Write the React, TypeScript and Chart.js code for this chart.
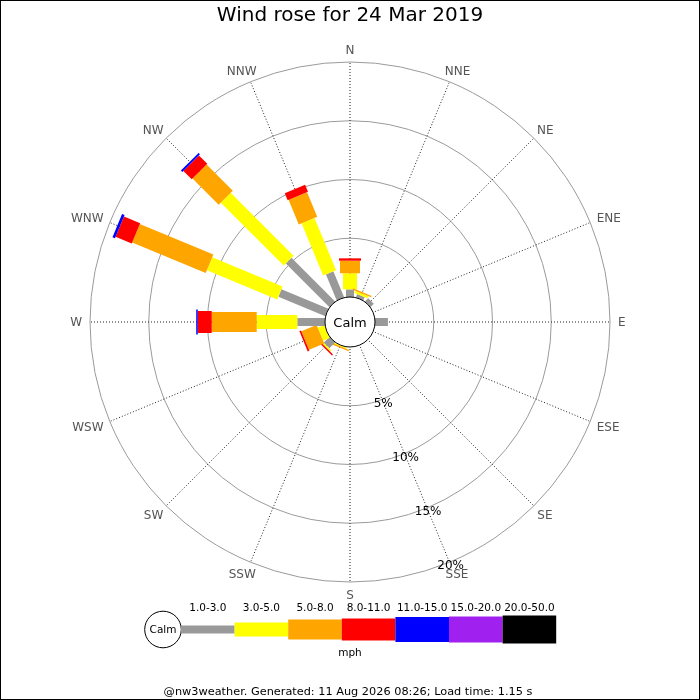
import React, { useEffect, useRef } from "react";
import { Chart, registerables } from "chart.js";

Chart.register(...registerables);

// ---- data ----
const directions = ["N", "NNE", "NE", "ENE", "E", "ESE", "SE", "SSE", "S", "SSW", "SW", "WSW", "W", "WNW", "NW", "NNW"];
const speedClasses = ["1.0-3.0", "3.0-5.0", "5.0-8.0", "8.0-11.0", "11.0-15.0", "15.0-20.0", "20.0-50.0"];
const classColors = ["#999999", "#ffff00", "#ffa500", "#ff0000", "#0000ff", "#a020f0", "#000000"];
const classWidths = [8, 14, 20, 22, 25, 26, 28];

// percentage of time per direction for each speed class (mph)
const speed1to3 = [0.65, 0.3, 0.4, 0, 1.1, 0, 0, 0, 0, 0, 0.7, 0, 2.36, 4.33, 5.26, 2.4];
const speed3to5 = [1.37, 0.2, 0, 0, 0, 0, 0, 0, 0, 0.1, 0.15, 0.6, 3.45, 6.48, 7.57, 4.81];
const speed5to8 = [1.07, 0.12, 0, 0, 0, 0, 0, 0, 0, 0.12, 0, 1.4, 3.83, 6.78, 3.15, 2.27];
const speed8to11 = [0.2, 0, 0, 0, 0, 0, 0, 0, 0, 0, 0.13, 0.15, 1.19, 1.49, 1.01, 0.64];
const speed11to15 = [0, 0, 0, 0, 0, 0, 0, 0, 0, 0, 0, 0, 0.13, 0.23, 0.17, 0];
const speed15to20 = [0, 0, 0, 0, 0, 0, 0, 0, 0, 0, 0, 0, 0, 0, 0, 0];
const speed20to50 = [0, 0, 0, 0, 0, 0, 0, 0, 0, 0, 0, 0, 0, 0, 0, 0];
const classData = [speed1to3, speed3to5, speed5to8, speed8to11, speed11to15, speed15to20, speed20to50];

const radialTicks = [5, 10, 15, 20];
const tickLabelDirection = "SSE";
const radialMax = 20;
const calmRadiusPct = -25 / 11.75; // inner calm circle offset in % units

const titleText = "Wind rose for 24 Mar 2019";
const unitText = "mph";
const footerText = "@nw3weather. Generated: 11 Aug 2026 08:26; Load time: 1.15 s";

const FONT = "'DejaVu Sans', Verdana, sans-serif";

const windRosePlugin = {
  id: "windrose",
  afterDatasetsDraw(chart: any) {
    const ctx = chart.ctx as CanvasRenderingContext2D;
    const scale = chart.scales.r;
    const ds = chart.data.datasets;
    ctx.save();
    for (let i = 0; i < directions.length; i++) {
      let cum = 0;
      ds.forEach((d: any, k: number) => {
        const v = d.data[i];
        if (!v) return;
        const r0 = scale.getDistanceFromCenterForValue(cum);
        cum += v;
        const r1 = scale.getDistanceFromCenterForValue(cum);
        const p0 = scale.getPointPosition(i, r0);
        const p1 = scale.getPointPosition(i, r1);
        const a = p0.angle;
        const hw = classWidths[k] / 2;
        const nx = -Math.sin(a) * hw;
        const ny = Math.cos(a) * hw;
        ctx.beginPath();
        ctx.moveTo(p0.x + nx, p0.y + ny);
        ctx.lineTo(p1.x + nx, p1.y + ny);
        ctx.lineTo(p1.x - nx, p1.y - ny);
        ctx.lineTo(p0.x - nx, p0.y - ny);
        ctx.closePath();
        ctx.fillStyle = d.backgroundColor;
        ctx.fill();
      });
    }
    // calm circle
    const rc = scale.getDistanceFromCenterForValue(0);
    ctx.beginPath();
    ctx.arc(scale.xCenter, scale.yCenter, rc, 0, Math.PI * 2);
    ctx.fillStyle = "#ffffff";
    ctx.fill();
    ctx.lineWidth = 1;
    ctx.strokeStyle = "#000000";
    ctx.stroke();
    ctx.fillStyle = "#000";
    ctx.font = `13px ${FONT}`;
    ctx.textAlign = "center";
    ctx.textBaseline = "alphabetic";
    ctx.fillText("Calm", scale.xCenter, scale.yCenter + (13 * 0.729) / 2);
    ctx.restore();
  },
  afterDraw(chart: any) {
    const ctx = chart.ctx as CanvasRenderingContext2D;
    const scale = chart.scales.r;
    const R = scale.drawingArea;
    ctx.save();
    ctx.textAlign = "center";
    ctx.textBaseline = "alphabetic";

    // compass labels
    const lf = 12;
    ctx.font = `${lf}px ${FONT}`;
    ctx.fillStyle = "#555555";
    const capH = lf * 0.729;
    directions.forEach((lab, i) => {
      const w = ctx.measureText(lab).width;
      const p = scale.getPointPosition(i, R + 8);
      const cx = Math.cos(p.angle);
      const cy = Math.sin(p.angle);
      const x = p.x + (w / 2) * cx;
      const y = p.y + (capH / 2) * cy;
      ctx.fillText(lab, x, y + capH / 2);
    });

    // radial tick labels
    const tf = 12;
    ctx.font = `${tf}px ${FONT}`;
    ctx.fillStyle = "#000000";
    const ti = directions.indexOf(tickLabelDirection);
    radialTicks.forEach((t) => {
      const p = scale.getPointPosition(ti, scale.getDistanceFromCenterForValue(t) + 3);
      ctx.fillText(`${t}%`, p.x, p.y + (tf * 0.729) / 2);
    });

    // legend
    const legY = 629.5;
    const segW = 53.6;
    const legX0 = 181;
    const lfs = 10.5;
    ctx.beginPath();
    ctx.arc(163, legY, 18.3, 0, Math.PI * 2);
    ctx.fillStyle = "#fff";
    ctx.fill();
    ctx.strokeStyle = "#000";
    ctx.lineWidth = 1;
    ctx.stroke();
    ctx.fillStyle = "#000";
    ctx.font = `${lfs}px ${FONT}`;
    ctx.fillText("Calm", 163, legY + (lfs * 0.729) / 2);
    speedClasses.forEach((lab, k) => {
      const x = legX0 + k * segW;
      const h = classWidths[k];
      ctx.fillStyle = classColors[k];
      ctx.fillRect(x, legY - h / 2, segW, h);
      ctx.fillStyle = "#000";
      ctx.fillText(lab, x + segW / 2, 611);
    });
    ctx.fillText(unitText, 350, 656);

    // footer
    ctx.font = `11.3px ${FONT}`;
    ctx.fillText(footerText, 348, 695);

    // frame
    ctx.strokeStyle = "#000";
    ctx.lineWidth = 1;
    ctx.strokeRect(0.5, 0.5, 699, 699);
    ctx.restore();
  },
};

export default function App() {
  const ref = useRef<HTMLCanvasElement>(null);
  useEffect(() => {
    if (!ref.current) return;
    const chart = new Chart(ref.current, {
      type: "radar",
      data: {
        labels: directions,
        datasets: classData.map((d, k) => ({
          label: speedClasses[k],
          data: d,
          backgroundColor: classColors[k],
          borderColor: classColors[k],
          borderWidth: 0,
          pointRadius: 0,
          pointHoverRadius: 0,
          showLine: false,
          fill: false,
        })),
      },
      options: {
        responsive: false,
        animation: false,
        events: [],
        layout: { padding: { left: 90, right: 90, top: 0, bottom: 118 } },
        plugins: {
          legend: { display: false },
          tooltip: { enabled: false },
          title: {
            display: true,
            text: titleText,
            color: "#000",
            font: { family: FONT, size: 20, weight: "normal", lineHeight: 1.2 },
            padding: { top: 4, bottom: 34 },
          },
        },
        scales: {
          r: {
            min: calmRadiusPct,
            max: radialMax,
            beginAtZero: false,
            afterBuildTicks: (s: any) => {
              s.ticks = radialTicks.map((v) => ({ value: v }));
            },
            ticks: { display: false },
            pointLabels: { display: false },
            grid: { circular: true, color: "#9a9a9a", lineWidth: 1 },
            angleLines: { display: true, color: "#222222", lineWidth: 1, borderDash: [1, 2] },
          },
        },
      },
      plugins: [windRosePlugin],
    } as any);
    return () => chart.destroy();
  }, []);
  return (
    <div style={{ position: "fixed", left: 0, top: 0, width: 700, height: 700, background: "#fff" }}>
      <canvas ref={ref} width={700} height={700} style={{ width: 700, height: 700, display: "block" }} />
    </div>
  );
}
